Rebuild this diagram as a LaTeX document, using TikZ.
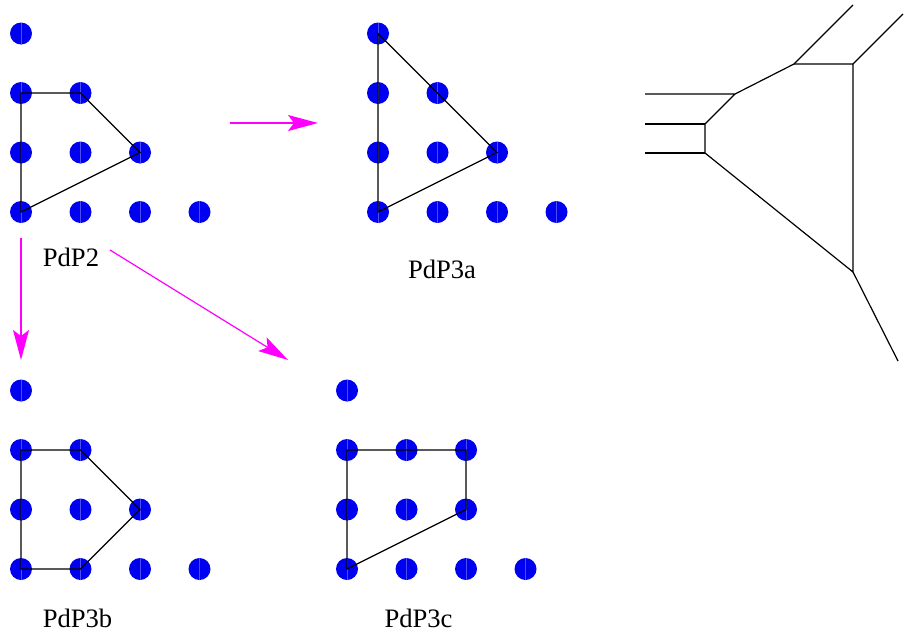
\documentclass[tikz,border=0pt]{standalone}
\usepackage{fontspec}
\setmainfont{Liberation Serif}
\usetikzlibrary{arrows.meta}
\definecolor{ptblue}{RGB}{0,0,240}
\definecolor{movepink}{RGB}{255,0,255}
\tikzset{
  pt/.style={circle, fill=ptblue, inner sep=0pt, minimum size=11pt,
    path picture={\draw[ptblue!70!white, line width=0.2pt] (path picture bounding box.north) -- (path picture bounding box.south);}},
  poly/.style={line width=0.6pt},
  move/.style={movepink, line width=0.6pt, -{Stealth[length=15pt, width=8pt, inset=3pt]}},
  lbl/.style={font=\fontsize{13.3}{16}\selectfont}
}
\begin{document}
\begin{tikzpicture}[x=0.5pt, y=-0.5pt]
    \useasboundingbox (0, 0) rectangle (904, 637);
    % PdP2
    \node[pt] (p00) at (21, 212) {};
    \node[pt] (p10) at (80.5, 212) {};
    \node[pt] (p20) at (140, 212) {};
    \node[pt] (p30) at (199.5, 212) {};
    \node[pt] (p01) at (21, 152.5) {};
    \node[pt] (p11) at (80.5, 152.5) {};
    \node[pt] (p21) at (140, 152.5) {};
    \node[pt] (p02) at (21, 93) {};
    \node[pt] (p12) at (80.5, 93) {};
    \node[pt] (p03) at (21, 33.5) {};
    \draw[poly] (p00.center) -- (p02.center) -- (p12.center) -- (p21.center) -- cycle;
    \node[lbl] (n2) at (71, 257) {PdP2};
    % PdP3a
    \node[pt] (a00) at (378, 212) {};
    \node[pt] (a10) at (437.5, 212) {};
    \node[pt] (a20) at (497, 212) {};
    \node[pt] (a30) at (556.5, 212) {};
    \node[pt] (a01) at (378, 152.5) {};
    \node[pt] (a11) at (437.5, 152.5) {};
    \node[pt] (a21) at (497, 152.5) {};
    \node[pt] (a02) at (378, 93) {};
    \node[pt] (a12) at (437.5, 93) {};
    \node[pt] (a03) at (378, 33.5) {};
    \draw[poly] (a00.center) -- (a03.center) -- (a21.center) -- cycle;
    \node[lbl] (n3a) at (442, 269) {PdP3a};
    % PdP3b
    \node[pt] (b00) at (21, 569) {};
    \node[pt] (b10) at (80.5, 569) {};
    \node[pt] (b20) at (140, 569) {};
    \node[pt] (b30) at (199.5, 569) {};
    \node[pt] (b01) at (21, 509.5) {};
    \node[pt] (b11) at (80.5, 509.5) {};
    \node[pt] (b21) at (140, 509.5) {};
    \node[pt] (b02) at (21, 450) {};
    \node[pt] (b12) at (80.5, 450) {};
    \node[pt] (b03) at (21, 390.5) {};
    \draw[poly] (b00.center) -- (b02.center) -- (b12.center) -- (b21.center) -- (b10.center) -- cycle;
    \node[lbl] (n3b) at (77.5, 618) {PdP3b};
    % PdP3c
    \node[pt] (c00) at (347, 569) {};
    \node[pt] (c10) at (406.5, 569) {};
    \node[pt] (c20) at (466, 569) {};
    \node[pt] (c30) at (525.5, 569) {};
    \node[pt] (c01) at (347, 509.5) {};
    \node[pt] (c11) at (406.5, 509.5) {};
    \node[pt] (c21) at (466, 509.5) {};
    \node[pt] (c02) at (347, 450) {};
    \node[pt] (c12) at (406.5, 450) {};
    \node[pt] (c22) at (466, 450) {};
    \node[pt] (c03) at (347, 390.5) {};
    \draw[poly] (c00.center) -- (c02.center) -- (c22.center) -- (c21.center) -- cycle;
    \node[lbl] (n3c) at (418.5, 618) {PdP3c};
    % moves
    \coordinate (s1) at (230, 123);
    \coordinate (t1) at (318, 123);
    \coordinate (s2) at (21, 238);
    \coordinate (t2) at (21, 360);
    \coordinate (s3) at (110, 250);
    \coordinate (t3) at (288, 360);
    \draw[move] (s1) -- (t1);
    \draw[move] (s2) -- (t2);
    \draw[move] (s3) -- (t3);
    % web
    \coordinate (l1) at (645, 94);
    \coordinate (l2) at (645, 124);
    \coordinate (l3) at (645, 153);
    \coordinate (va) at (735, 94);
    \coordinate (vb) at (705, 124);
    \coordinate (vc) at (705, 153);
    \coordinate (vd) at (794, 64);
    \coordinate (ve) at (853, 64);
    \coordinate (vf) at (853, 272);
    \coordinate (ud) at (853, 5);
    \coordinate (ue) at (903, 14);
    \coordinate (uf) at (898, 361);
    \draw[poly] (l1) -- (va) -- (vd) -- (ve) -- (vf) -- (vc) -- (vb) -- (va);
    \draw[poly] (l2) -- (vb);
    \draw[poly] (l3) -- (vc);
    \draw[poly] (vd) -- (ud);
    \draw[poly] (ve) -- (ue);
    \draw[poly] (vf) -- (uf);
  \end{tikzpicture}
\end{document}
